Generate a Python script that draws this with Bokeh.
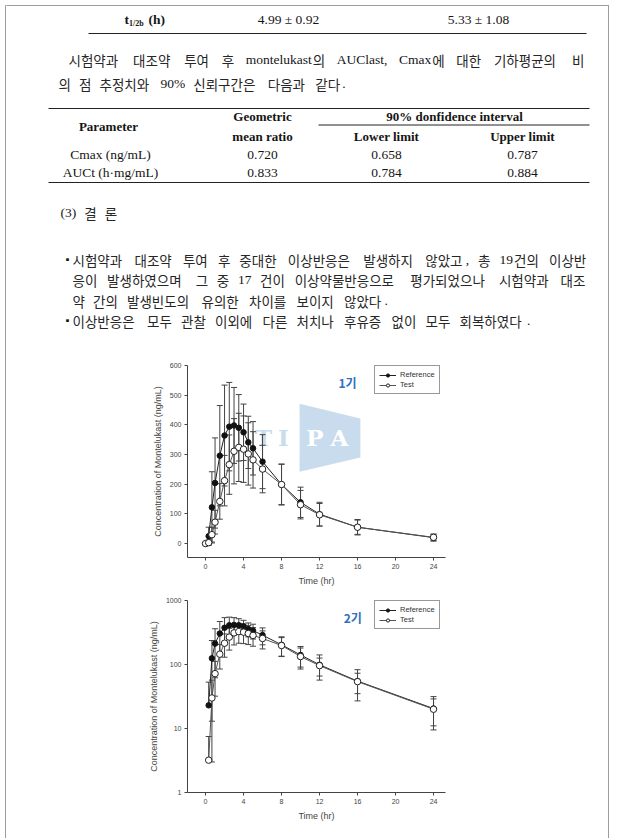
from bokeh.plotting import figure
from bokeh.models import Range1d, FixedTicker, PrintfTickFormatter, Legend, LegendItem, Label, Spacer
from bokeh.layouts import row, column
from bokeh.core.properties import value
from bokeh.embed import file_html
from bokeh.resources import INLINE

# ---------------- data ----------------
T1 = [0, 0.33, 0.67, 1, 1.5, 2, 2.5, 3, 3.5, 4, 4.5, 5, 6, 8, 10, 12, 16, 24]
REF1 = [0, 25, 122, 204, 296, 364, 394, 398, 390, 375, 341, 321, 276, 199, 139, 99, 55, 20]
REF1_SD = [0, 30, 120, 152, 169, 170, 149, 128, 112, 95, 88, 90, 91, 69, 51, 40, 26, 12]
TEST1 = [0, 3, 30, 72, 142, 212, 266, 311, 324, 318, 302, 282, 251, 199, 131, 97, 55, 21]
TEST1_SD = [0, 8, 25, 40, 60, 85, 100, 110, 115, 112, 105, 95, 80, 68, 48, 38, 24, 10]

T2 = [0.33, 0.67, 1, 1.5, 2, 2.5, 3, 3.5, 4, 4.5, 5, 6, 8, 10, 12, 16, 24]
REF2 = [23, 125, 212, 305, 375, 410, 415, 410, 395, 358, 338, 288, 203, 141, 99, 55, 20.5]
REF2_SD = [30, 112, 150, 165, 165, 140, 125, 110, 95, 88, 88, 85, 68, 50, 42, 28, 11]
TEST2 = [3.2, 30, 72, 145, 215, 268, 312, 327, 320, 305, 285, 255, 198, 133, 96, 54, 20]
TEST2_SD = [4.3, 27, 40, 60, 85, 100, 110, 112, 108, 100, 92, 80, 65, 48, 30, 19, 9]

X_TICKS = [0, 4, 8, 12, 16, 20, 24]
Y1_TICKS = [0, 100, 200, 300, 400, 500, 600]
Y2_TICKS = [1, 10, 100, 1000]
SERIES = ["Reference", "Test"]
PERIODS = ["1기", "2기"]
X_LABEL = "Time (hr)"
Y_LABEL = "Concentration of Montelukast (ng/mL)"

# document texts
T_HALF = ["t", "1/2b", "(h)"]
T_HALF_VALUES = ["4.99 ± 0.92", "5.33 ± 1.08"]
PARA1 = ["시험약과 대조약 투여 후 montelukast의 AUClast, Cmax에 대한 기하평균의 비",
         "의 점 추정치와 90% 신뢰구간은 다음과 같다."]
TABLE_HEAD = ["Parameter", "Geometric", "mean ratio", "90% donfidence interval", "Lower limit", "Upper limit"]
TABLE_PARAMS = ["Cmax (ng/mL)", "AUCt (h·mg/mL)"]
TABLE_GMR = ["0.720", "0.833"]
TABLE_LOWER = ["0.658", "0.784"]
TABLE_UPPER = ["0.787", "0.884"]
HEADING = "(3) 결 론"
BULLET1 = ["시험약과 대조약 투여 후 중대한 이상반응은 발생하지 않았고, 총 19건의 이상반",
           "응이 발생하였으며 그 중 17 건이 이상약물반응으로 평가되었으나 시험약과 대조",
           "약 간의 발생빈도의 유의한 차이를 보이지 않았다."]
BULLET2 = ["이상반응은 모두 관찰 이외에 다른 처치나 후유증 없이 모두 회복하였다."]

# ---------------- styles ----------------
KR = "Noto Sans CJK KR"
SERIF = "Liberation Serif"
SANS = "Liberation Sans"
TXT = "#151515"
KTXT = "#262626"
FS = 13.5
GAP = 7
PAGE_W = 617
INNER_X0 = 6
INNER_W = 602
DOC_H = 345
C1_H = 247
C2_H = 246
BORDER = "#9c9c9c"

LAT = {' ': .25, '.': .25, ',': .25, '%': .833, '(': .333, ')': .333, '/': .278, '±': .564, '·': .25,
       'a': .444, 'b': .5, 'c': .444, 'd': .5, 'e': .444, 'f': .333, 'g': .5, 'h': .5, 'i': .278,
       'k': .5, 'l': .278, 'm': .778, 'n': .5, 'o': .5, 'p': .5, 'r': .333, 's': .389, 't': .278,
       'u': .5, 'x': .5, 'A': .722, 'C': .667, 'L': .611, 'M': .889, 'U': .722, 'P': .556}


def is_h(ch):
    return '\uac00' <= ch <= '\ud7a3'


def runs_of(word):
    out, cur, cur_h = [], "", None
    for ch in word:
        h = is_h(ch)
        if cur and h != cur_h:
            out.append((cur, cur_h))
            cur = ""
        cur += ch
        cur_h = h
    if cur:
        out.append((cur, cur_h))
    return out


def run_w(t, h, fs):
    if h:
        return fs * len(t)
    return sum(LAT.get(c, 0.5) for c in t) * fs + 1.0


def draw_line(p, line, x0, y, x1=None, fs=FS, gap=GAP):
    words = line.split(" ")
    ws = [sum(run_w(t, h, fs) for t, h in runs_of(w)) for w in words]
    g = (x1 - x0 - sum(ws)) / (len(words) - 1) if (x1 is not None and len(words) > 1) else gap
    hx, ht, lx, lt = [], [], [], []
    x = x0
    for w, wd in zip(words, ws):
        cx = x
        for t, h in runs_of(w):
            if h:
                hx.append(cx); ht.append(t)
            else:
                lx.append(cx); lt.append(t)
            cx += run_w(t, h, fs)
        x += wd + g
    if hx:
        p.text(x=hx, y=[y] * len(hx), text=ht, text_font=value(KR), text_font_size=value(f"{fs}px"),
               text_baseline="middle", text_align="left", text_color=KTXT)
    if lx:
        p.text(x=lx, y=[y] * len(lx), text=lt, text_font=value(SERIF), text_font_size=value(f"{fs}px"),
               text_baseline="middle", text_align="left", text_color=TXT)


def ctext(p, x, y, t, bold=False, size=13.5, align="center"):
    p.text(x=[x], y=[y], text=[t], text_font=value(SERIF), text_font_size=value(f"{size}px"),
           text_font_style="bold" if bold else "normal", text_baseline="middle", text_align=align,
           text_color=TXT)


# ---------------- document figure ----------------
doc = figure(width=INNER_W, height=DOC_H, x_range=Range1d(INNER_X0, INNER_X0 + INNER_W),
             y_range=Range1d(DOC_H, 0), min_border=0, x_axis_location=None, y_axis_location=None,
             output_backend="svg", toolbar_location=None, outline_line_color=None, frame_align=False)
doc.xgrid.visible = False
doc.ygrid.visible = False

# page top border
doc.line(x=[5, 608], y=[5, 5], line_color=BORDER, line_width=1)

# t1/2b row
ctext(doc, 124, 19, T_HALF[0], bold=True, align="left")
ctext(doc, 128.5, 22.5, T_HALF[1], bold=True, size=8, align="left")
ctext(doc, 148, 19, T_HALF[2], bold=True, align="left")
ctext(doc, 288, 19, T_HALF_VALUES[0])
ctext(doc, 478, 19, T_HALF_VALUES[1])
doc.line(x=[88, 586], y=[33, 33], line_color="#222", line_width=1)

# paragraph
draw_line(doc, PARA1[0], 68, 59, x1=585)
draw_line(doc, PARA1[1], 58, 83)

# table
doc.line(x=[48, 589], y=[108, 108], line_color="#222", line_width=1)
ctext(doc, 108, 126, TABLE_HEAD[0], bold=True, size=13)
ctext(doc, 262, 116, TABLE_HEAD[1], bold=True, size=13)
ctext(doc, 262, 136, TABLE_HEAD[2], bold=True, size=13)
ctext(doc, 454, 116, TABLE_HEAD[3], bold=True, size=13)
doc.line(x=[318, 589], y=[124.5, 124.5], line_color="#222", line_width=1)
ctext(doc, 386, 136, TABLE_HEAD[4], bold=True, size=13)
ctext(doc, 522, 136, TABLE_HEAD[5], bold=True, size=13)
for i, yy in enumerate([154, 172]):
    ctext(doc, 110, yy, TABLE_PARAMS[i])
    ctext(doc, 262, yy, TABLE_GMR[i])
    ctext(doc, 386, yy, TABLE_LOWER[i])
    ctext(doc, 522, yy, TABLE_UPPER[i])
doc.line(x=[48, 589], y=[182, 182], line_color="#222", line_width=1)

# heading + bullets
draw_line(doc, HEADING, 60, 212)
doc.text(x=[62, 62], y=[259, 320], text=["▪", "▪"], text_font=value(KR), text_font_size=value("10px"),
         text_baseline="middle", text_color=TXT)
draw_line(doc, BULLET1[0], 72, 259, x1=589)
draw_line(doc, BULLET1[1], 72, 279.5, x1=587)
draw_line(doc, BULLET1[2], 72, 300)
draw_line(doc, BULLET2[0], 72, 320)


# ---------------- charts ----------------
def err_bars(t, m, sd, log):
    x0, y0, y1, cx, cy = [], [], [], [], []
    for ti, mi, si in zip(t, m, sd):
        if si <= 0:
            continue
        hi, lo = mi + si, mi - si
        if log and lo <= 0:
            x0.append(ti); y0.append(mi); y1.append(hi)
            cx.append(ti); cy.append(hi)
        else:
            x0.append(ti); y0.append(lo); y1.append(hi)
            cx += [ti, ti]; cy += [hi, lo]
    return x0, y0, y1, cx, cy


def make_chart(T, ref, ref_sd, test, test_sd, log, height, top, bottom, period, period_xy):
    kw = dict(y_axis_type="log") if log else {}
    yr = Range1d(1, 1000) if log else Range1d(-47, 600)
    p = figure(width=INNER_W, height=height, x_range=Range1d(-1.9, 25.26), y_range=yr,
               min_border_left=181, min_border_right=163, min_border_top=top, min_border_bottom=bottom,
               output_backend="svg", toolbar_location=None, outline_line_color=None,
               frame_align=False, **kw)
    p.xgrid.visible = False
    p.ygrid.visible = False
    for ax in (p.xaxis[0], p.yaxis[0]):
        ax.axis_line_color = "#444"
        ax.major_tick_line_color = "#444"
        ax.major_tick_out = 3
        ax.major_tick_in = 0
        ax.minor_tick_line_color = None
        ax.major_label_text_font = SANS
        ax.major_label_text_font_size = "7px"
        ax.major_label_text_color = "#444"
        ax.major_label_standoff = 3
        ax.axis_label_text_font = SANS
        ax.axis_label_text_font_size = "9px"
        ax.axis_label_text_font_style = "normal"
        ax.axis_label_text_color = "#444"
        ax.axis_label_standoff = 4
    p.xaxis.ticker = FixedTicker(ticks=X_TICKS)
    p.xaxis.axis_label = X_LABEL
    p.yaxis.axis_label = Y_LABEL
    if log:
        p.yaxis.ticker = FixedTicker(ticks=Y2_TICKS)
        p.yaxis.formatter = PrintfTickFormatter(format="%d")
    else:
        p.yaxis.ticker = FixedTicker(ticks=Y1_TICKS)

    if not log:
        # TIPA watermark
        p.patch(x=[9.9, 16.3, 16.3, 9.9], y=[471, 421, 290, 242], fill_color="#c8dcee",
                line_color=None, level="underlay")
        p.text(x=[6.1, 8.2], y=[357, 357], text=["T", "I"], text_font=value("DejaVu Serif"),
               text_font_style="bold", text_font_size=value("23px"), text_color="#c8dcee",
               text_align="center", text_baseline="middle", level="underlay")
        p.text(x=[11.5, 14.1], y=[357, 357], text=["P", "A"], text_font=value("DejaVu Serif"),
               text_font_style="bold", text_font_size=value("23px"), text_color="white",
               text_align="center", text_baseline="middle", level="underlay")

    for m, sd in ((ref, ref_sd), (test, test_sd)):
        x0, y0, y1, cx, cy = err_bars(T, m, sd, log)
        p.segment(x0=x0, y0=y0, x1=x0, y1=y1, line_color="#444", line_width=1)
        p.scatter(x=cx, y=cy, marker="dash", size=6, line_color="#444", line_width=1)

    rl = p.line(T, ref, line_color="#222", line_width=1)
    tl = p.line(T, test, line_color="#555", line_width=1)
    rs = p.scatter(T, ref, marker="circle", size=5.5, fill_color="#111", line_color="#111")
    ts = p.scatter(T, test, marker="circle", size=6.5, fill_color="white", line_color="#222", line_width=1)

    legend = Legend(items=[LegendItem(label=SERIES[0], renderers=[rl, rs]),
                           LegendItem(label=SERIES[1], renderers=[tl, ts])],
                    location=(187, 163), orientation="vertical")
    legend.label_text_font = SANS
    legend.label_text_font_size = "7.5px"
    legend.label_text_color = "#333"
    legend.glyph_width = 17
    legend.glyph_height = 8
    legend.label_height = 8
    legend.label_standoff = 4
    legend.padding = 4
    legend.spacing = 1
    legend.margin = 0
    legend.border_line_color = "#333"
    legend.border_line_width = 1
    legend.background_fill_alpha = 1
    p.add_layout(legend)

    p.add_layout(Label(x=period_xy[0], y=period_xy[1], text=period, text_font=KR, text_font_style="bold",
                       text_font_size="12px", text_color="#2f6fc4", text_align="center",
                       text_baseline="middle"))
    return p


c1 = make_chart(T1, REF1, REF1_SD, TEST1, TEST1_SD, False, C1_H, 20, 35, PERIODS[0], (14.95, 543))
c2 = make_chart(T2, REF2, REF2_SD, TEST2, TEST2_SD, True, C2_H, 8, 46, PERIODS[1], (15.5, 542))

gray = {"background-color": BORDER}
left_b = column(Spacer(width=1, height=5, margin=0),
                Spacer(width=1, height=838 - 5, margin=0, styles=gray), margin=0)
right_b = column(Spacer(width=1, height=5, margin=0),
                 Spacer(width=1, height=838 - 5, margin=0, styles=gray), margin=0)
content = column(doc, c1, c2, margin=0)
root = row(Spacer(width=5, height=838, margin=0), left_b, content, right_b,
           Spacer(width=PAGE_W - 5 - 1 - INNER_W - 1, height=838, margin=0), margin=0)

open("out.html", "w").write(file_html(root, INLINE))
